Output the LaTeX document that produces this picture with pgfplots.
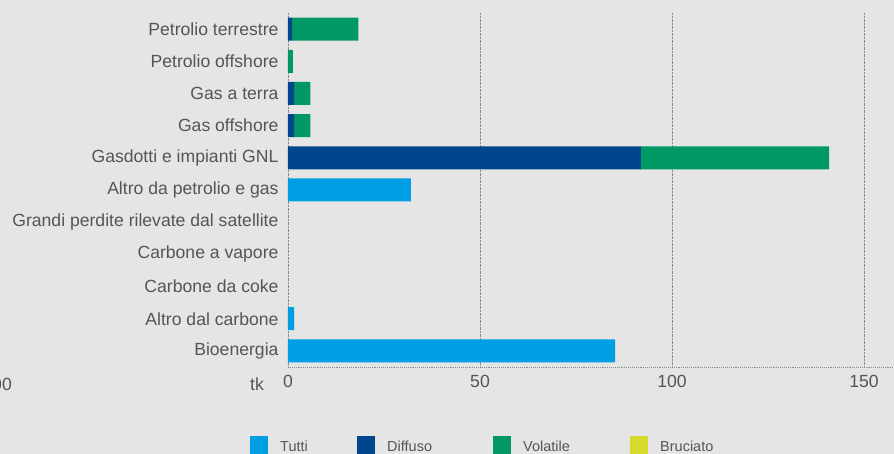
\documentclass[border=0pt]{standalone}
\usepackage{pgfplots}
\pgfplotsset{compat=1.18}
\usepackage{fontspec}
\setmainfont{Liberation Sans}
\definecolor{bg}{HTML}{E5E5E5}
\definecolor{tutti}{HTML}{009FE3}
\definecolor{diffuso}{HTML}{00468E}
\definecolor{volatile}{HTML}{009966}
\definecolor{bruciato}{HTML}{D7DA2D}
\definecolor{txt}{HTML}{555555}
\definecolor{gridc}{HTML}{8A8A8A}
\newcommand{\lblfont}{\fontsize{17.6}{20}\selectfont}
\newcommand{\legfont}{\fontsize{14.5}{17}\selectfont}
\begin{document}
\begin{tikzpicture}
\fill[bg] (0pt,0pt) rectangle (894pt,454pt);
\clip (0pt,0pt) rectangle (894pt,454pt);
\begin{axis}[
  at={(288pt,87pt)}, anchor=south west,
  width=606pt, height=354pt, scale only axis,
  xmin=0, xmax=157.8,
  ymin=-0.5, ymax=10.5, y dir=reverse,
  xbar stacked, bar width=23pt,
  ytick={0,...,10},
  yticklabels={Petrolio terrestre,Petrolio offshore,Gas a terra,Gas offshore,Gasdotti e impianti GNL,Altro da petrolio e gas,Grandi perdite rilevate dal satellite,Carbone a vapore,Carbone da coke,Altro dal carbone,Bioenergia},
  xtick={0,50,100,150},
  xmajorgrids,
  grid style={densely dotted, gridc, line width=0.9pt},
  axis x line*=bottom, axis y line*=left,
  x axis line style={densely dotted, gridc, line width=0.9pt, -},
  y axis line style={draw=none},
  major tick length=0pt,
  tick style={draw=none},
  tick label style={font=\lblfont, text=txt},
  /pgf/number format/assume math mode=true,
  yticklabel style={xshift=-6pt},
  xticklabel style={yshift=-5pt},
  clip=false,
]
\addplot[fill=tutti, draw=none] coordinates {(0,0) (0,1) (0,2) (0,3) (0,4) (32.0,5) (0,6) (0,7) (0,8) (1.6,9) (85.2,10)};
\addplot[fill=diffuso, draw=none] coordinates {(1.1,0) (0,1) (1.6,2) (1.6,3) (91.9,4) (0,5) (0,6) (0,7) (0,8) (0,9) (0,10)};
\addplot[fill=volatile, draw=none] coordinates {(17.2,0) (1.3,1) (4.2,2) (4.2,3) (49.0,4) (0,5) (0,6) (0,7) (0,8) (0,9) (0,10)};
\end{axis}
\node[font=\lblfont, text=txt, anchor=east, inner sep=0pt] at (264pt,70pt) {tk};
\node[font=\lblfont, text=txt, anchor=east, inner sep=0pt] at (12pt,70pt) {100};
% legend
\fill[tutti] (250pt,0pt) rectangle (268pt,18pt);
\node[font=\legfont, text=txt, anchor=base west, inner sep=0pt] at (280pt,2pt) {Tutti};
\fill[diffuso] (357pt,0pt) rectangle (375pt,18pt);
\node[font=\legfont, text=txt, anchor=base west, inner sep=0pt] at (387pt,2pt) {Diffuso};
\fill[volatile] (493pt,0pt) rectangle (511pt,18pt);
\node[font=\legfont, text=txt, anchor=base west, inner sep=0pt] at (523pt,2pt) {Volatile};
\fill[bruciato] (630pt,0pt) rectangle (648pt,18pt);
\node[font=\legfont, text=txt, anchor=base west, inner sep=0pt] at (660pt,2pt) {Bruciato};
\end{tikzpicture}
\end{document}
